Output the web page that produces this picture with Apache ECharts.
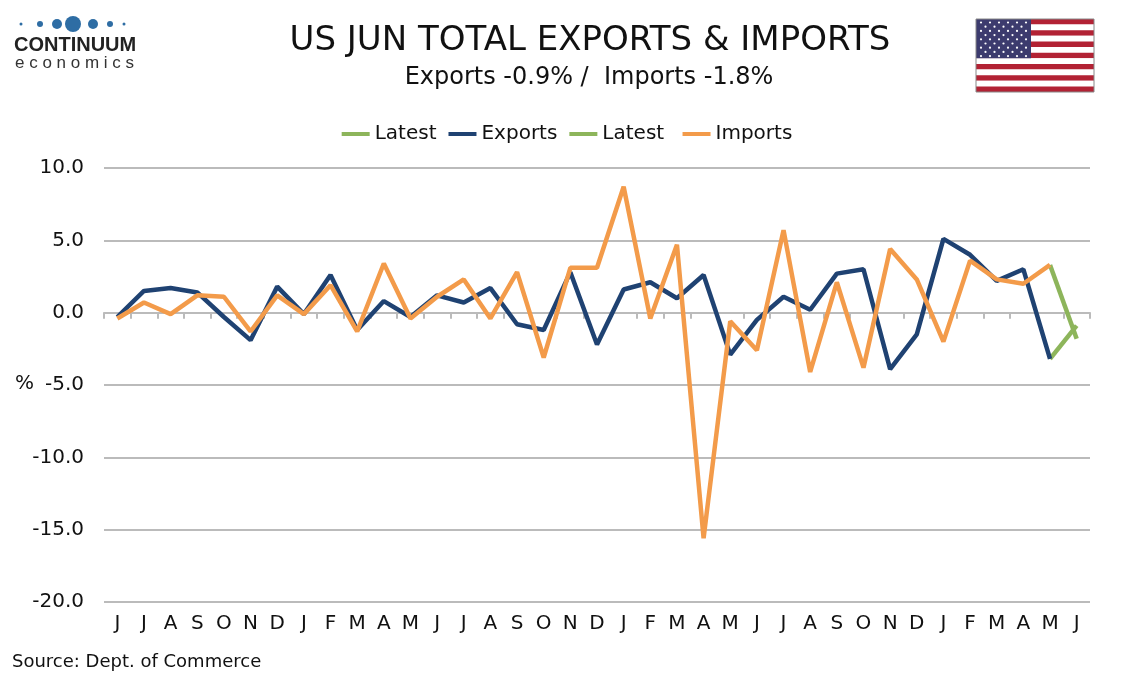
<!DOCTYPE html>
<html>
<head>
<meta charset="utf-8">
<script src="https://cdn.jsdelivr.net/npm/echarts@6/dist/echarts.min.js"></script>
<style>html,body{margin:0;padding:0;background:#fff}#main{width:1134px;height:680px}</style>
</head>
<body>
<div id="main"></div>
<script>
var months = ['J','J','A','S','O','N','D','J','F','M','A','M','J','J','A','S','O','N','D','J','F','M','A','M','J','J','A','S','O','N','D','J','F','M','A','M','J'];
var exportsData = [-0.3,1.5,1.7,1.4,-0.3,-1.9,1.8,-0.1,2.6,-1.2,0.8,-0.3,1.2,0.7,1.7,-0.8,-1.2,2.8,-2.2,1.6,2.1,1.0,2.6,-2.9,-0.5,1.1,0.2,2.7,3.0,-3.9,-1.5,5.1,4.0,2.2,3.0,-3.2,null];
var importsData = [-0.4,0.7,-0.1,1.2,1.1,-1.3,1.2,-0.1,1.9,-1.3,3.4,-0.4,1.1,2.3,-0.4,2.8,-3.1,3.1,3.1,8.7,-0.4,4.7,-15.6,-0.6,-2.6,5.7,-4.1,2.1,-3.8,4.4,2.3,-2.0,3.6,2.3,2.0,3.3,null];
var exportsLatest = [-3.2,-0.9];
var importsLatest = [3.3,-1.8];

function latestSeries(pair){
  var arr = months.map(function(){return null;});
  arr[arr.length-2] = pair[0];
  arr[arr.length-1] = pair[1];
  return arr;
}

var chart = echarts.init(document.getElementById('main'));
var font = 'Verdana, DejaVu Sans, sans-serif';

// flag graphic
var flag = [];
var fx = 976, fy = 19, fw = 118, fh = 73;
for (var s = 0; s < 13; s++) {
  flag.push({type:'rect', shape:{x:fx, y:fy + s*fh/13, width:fw, height:fh/13}, style:{fill: s%2 ? '#fff' : '#b22234'}});
}
flag.push({type:'rect', shape:{x:fx, y:fy, width:55, height:fh*7/13}, style:{fill:'#3c3b6e'}});
for (var r = 0; r < 9; r++) {
  for (var c = 0; c < (r%2 ? 5 : 6); c++) {
    flag.push({type:'circle', shape:{cx:fx+5+c*9+(r%2?4.5:0), cy:fy+3.5+r*4.2, r:1.1}, style:{fill:'#fff'}});
  }
}
flag.push({type:'rect', shape:{x:fx, y:fy, width:fw, height:fh}, style:{fill:'none', stroke:'#888', lineWidth:1}});

// logo
var dots = [[21,1.5],[40,3],[57,5],[73,8],[93,5],[110,3],[124,1.5]];
var logo = dots.map(function(d){
  return {type:'circle', shape:{cx:d[0], cy:24, r:d[1]}, style:{fill:'#2e6da4'}};
});
logo.push({type:'text', left:14, top:35, style:{text:'CONTINUUM', font:'bold 20px Arial Narrow, Liberation Sans Narrow, Liberation Sans', fill:'#222'}});
logo.push({type:'text', left:15, top:55, style:{text:'e c o n o m i c s', font:'17px Liberation Sans, Arial', fill:'#333'}});

chart.setOption({
  animation: false,
  title: [
    {text:'US JUN TOTAL EXPORTS & IMPORTS', left:585, top:19, textAlign:'center', textStyle:{fontFamily:font, fontSize:34, fontWeight:'normal', color:'#111'}},
    {text:'Exports -0.9% /  Imports -1.8%', left:584, top:61, textAlign:'center', textStyle:{fontFamily:font, fontSize:24, fontWeight:'normal', color:'#111'}}
  ],
  graphic: flag.concat(logo).concat([
    {type:'text', left:12, top:653, style:{text:'Source: Dept. of Commerce', font:'18px Verdana, DejaVu Sans', fill:'#111'}},
    {type:'text', left:15, top:374, style:{text:'%', font:'20px Verdana, DejaVu Sans', fill:'#111'}}
  ]),
  legend: {
    top:119, left:'center', itemGap:12, itemWidth:28, itemHeight:4,
    textStyle:{fontFamily:font, fontSize:20, color:'#111'},
    icon:'rect',
    data:['Latest','Exports','Latest ','Imports']
  },
  grid: {left:104, right:44, top:168, bottom:78},
  xAxis: {
    type:'category', data:months, boundaryGap:true,
    axisLine:{onZero:true, lineStyle:{color:'#bbb', width:2}},
    axisTick:{show:true, alignWithLabel:false, lineStyle:{color:'#bbb', width:2}, length:6},
    axisLabel:{show:false}
  },
  yAxis: {
    type:'value', min:-20, max:10, interval:5,
    axisLine:{show:false}, axisTick:{show:false},
    splitLine:{lineStyle:{color:'#bbb', width:2}},
    axisLabel:{fontFamily:font, fontSize:20, color:'#111', margin:20, formatter:function(v){return v.toFixed(1);}}
  },
  series: [
    {name:'Latest', type:'line', data:latestSeries(exportsLatest), symbol:'none', lineStyle:{width:4.5, color:'#8db55b'}, itemStyle:{color:'#8db55b'}},
    {name:'Exports', type:'line', data:exportsData, symbol:'none', lineStyle:{width:4.5, color:'#1f4272'}, itemStyle:{color:'#1f4272'}},
    {name:'Latest ', type:'line', data:latestSeries(importsLatest), symbol:'none', lineStyle:{width:4.5, color:'#8db55b'}, itemStyle:{color:'#8db55b'}},
    {name:'Imports', type:'line', data:importsData, symbol:'none', lineStyle:{width:4.5, color:'#f39b4a'}, itemStyle:{color:'#f39b4a'}},
    {type:'custom', silent:true, data:months.map(function(m,i){return [i,m];}), renderItem:function(p,api){
      var pt = api.coord([api.value(0), -20]);
      return {type:'text', x:pt[0], y:pt[1]+22, style:{text:months[api.value(0)], font:'20px Verdana, DejaVu Sans', fill:'#111', align:'center', verticalAlign:'middle'}};
    }}
  ]
});
</script>
</body>
</html>
